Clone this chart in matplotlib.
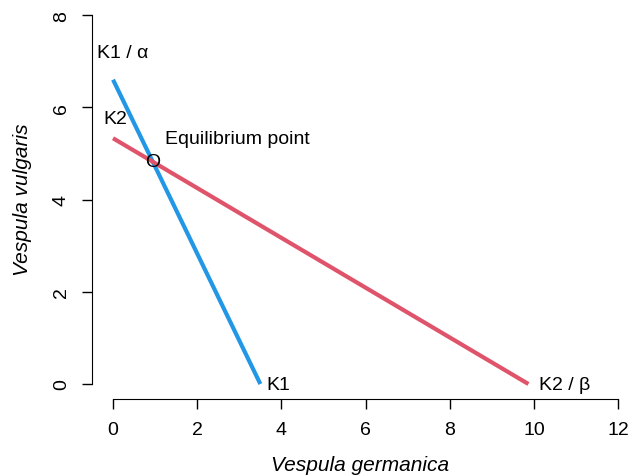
import numpy as np
import matplotlib.pyplot as plt

# Lotka-Volterra competition isoclines
K1 = 3.5
K1_alpha = 6.6
K2 = 5.33
K2_beta = 9.87

x_ticks = [0, 2, 4, 6, 8, 10, 12]
y_ticks = [0, 2, 4, 6, 8]

blue = '#2297E6'
red = '#DF536B'

plt.rcParams['font.family'] = ['Liberation Sans', 'DejaVu Sans']

W, H = 629, 477
fig = plt.figure(figsize=(W / 100, H / 100), dpi=100)
# axes in pixel terms: left 92, right 629, top 0, bottom 400
ax = fig.add_axes([92 / W, (H - 400) / H, (W - 92) / W, 400 / H])
ax.set_xlim(-0.5, 12.26)
ax.set_ylim(-0.325, 8.35)

ax.plot([0, K1], [K1_alpha, 0], color=blue, lw=3, solid_capstyle='butt')
ax.plot([0, K2_beta], [K2, 0], color=red, lw=3, solid_capstyle='butt')

# equilibrium
xe = (K1_alpha - K2) / (K1_alpha / K1 - K2 / K2_beta)
ye = K2 - K2 / K2_beta * xe
fs = 14
ax.text(xe, ye, 'O', ha='center', va='center', fontsize=fs)
ax.text(xe + 0.3, ye + 0.5, 'Equilibrium point', ha='left', va='center', fontsize=fs)

ax.text(0.24, K1_alpha + 0.58, 'K1 / \u03b1', ha='center', va='center', fontsize=fs)
ax.text(0.05, K2 + 0.42, 'K2', ha='center', va='center', fontsize=fs)
ax.text(K1 + 0.15, 0, 'K1', ha='left', va='center', fontsize=fs)
ax.text(K2_beta + 0.25, 0, 'K2 / \u03b2', ha='left', va='center', fontsize=fs)

for s in ['top', 'right']:
    ax.spines[s].set_visible(False)
ax.spines['left'].set_bounds(0, 8)
ax.spines['bottom'].set_bounds(0, 12)
ax.set_xticks(x_ticks)
ax.set_yticks(y_ticks)
ax.tick_params(length=7, width=1, labelsize=fs, pad=9)
for lab in ax.get_yticklabels():
    lab.set_rotation(90)
    lab.set_va('center')

ax.set_xlabel('Vespula germanica', fontsize=15, style='italic', labelpad=12)
ax.set_ylabel('Vespula vulgaris', fontsize=15, style='italic', labelpad=15)

fig.savefig('out.png', dpi=100)
